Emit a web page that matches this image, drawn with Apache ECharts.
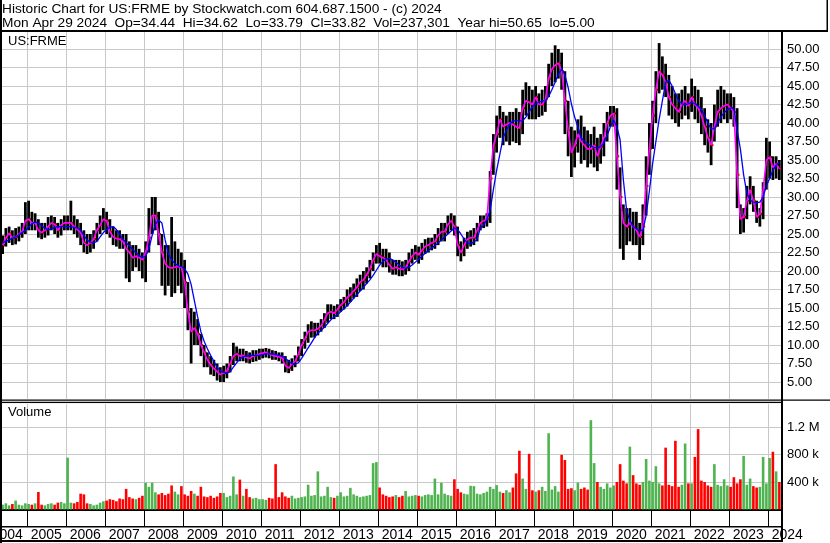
<!DOCTYPE html>
<html><head><meta charset="utf-8">
<script src="https://cdn.jsdelivr.net/npm/echarts@6/dist/echarts.min.js"></script>
<style>html,body{margin:0;padding:0;background:#fff}#c{width:830px;height:543px}</style>
</head><body><div id="c"></div>
<script>
// ---------- DATA (monthly, May 2004 .. Apr 2024) ----------
const years = ['2004','2005','2006','2007','2008','2009','2010','2011','2012','2013','2014',
               '2015','2016','2017','2018','2019','2020','2021','2022','2023','2024'];
const firstMonth = '2004-05';
const lastMonth = '2024-04';

const highs = [
  24.8,25.8,26.0,25.5,25.8,26.0,26.5,29.3,
  29.5,28.0,27.8,27.0,26.5,26.5,27.3,27.5,27.3,26.5,27.0,27.5,
  27.5,29.5,27.5,27.0,26.5,25.5,25.0,25.0,25.5,26.5,27.5,28.5,
  28.0,27.0,26.0,25.5,25.5,25.0,25.0,24.0,23.5,23.5,23.0,22.5,
  24.0,28.5,30.0,30.0,28.0,25.0,23.5,23.5,27.3,24.0,23.0,22.5,
  21.5,18.5,15.0,14.5,13.5,11.5,10.0,9.0,8.5,8.0,7.5,7.0,
  7.2,7.5,8.5,10.3,9.8,9.5,9.5,9.2,9.0,9.3,9.3,9.5,
  9.5,9.6,9.5,9.3,9.2,9.0,9.0,8.5,8.0,8.2,8.6,9.8,
  10.8,11.8,12.8,13.2,13.0,13.0,13.5,14.3,15.5,15.5,15.3,15.5,
  16.2,16.5,17.5,17.8,18.3,19.0,19.5,20.0,20.5,21.5,22.5,23.5,
  23.8,23.0,23.0,22.5,21.5,21.5,21.5,21.3,21.5,22.5,23.0,23.5,
  23.3,23.8,24.3,24.5,24.5,25.0,25.8,26.5,26.5,27.5,27.8,27.5,
  26.0,24.0,24.5,25.3,25.5,25.8,26.5,27.5,27.5,27.8,33.5,38.5,
  41.0,42.3,41.5,41.0,41.5,41.5,42.0,41.5,44.5,45.5,45.0,44.5,
  45.0,44.0,44.5,45.0,48.0,49.5,50.5,50.0,49.5,47.0,43.0,39.5,
  39.0,40.5,41.0,39.5,39.0,38.5,39.5,38.0,38.5,40.0,41.5,42.3,
  42.3,42.0,34.0,29.0,28.5,28.5,28.0,28.0,26.5,29.0,35.5,40.0,
  43.0,47.0,50.8,49.0,48.0,46.5,45.0,44.0,44.0,44.5,45.0,44.0,
  46.0,45.0,44.5,43.5,42.0,40.5,40.0,42.5,44.5,45.0,44.5,44.0,
  44.0,43.5,42.0,29.0,28.5,31.5,32.8,31.5,29.5,28.5,32.0,38.0,
  37.5,35.5,35.5,35.0
];
const lows = [
  22.3,23.3,23.8,23.5,23.6,24.0,24.5,25.0,
  25.5,25.5,25.5,24.5,24.3,24.5,24.8,25.5,25.0,24.5,24.8,25.5,
  25.5,25.5,25.0,24.5,23.5,22.5,22.3,22.5,23.0,24.0,25.0,25.5,
  25.0,24.5,23.5,23.3,23.0,23.0,19.0,18.5,20.0,20.5,20.0,19.0,
  18.5,22.5,25.0,25.5,23.5,18.0,16.7,18.0,16.5,17.0,18.0,17.0,
  15.0,12.0,7.5,10.0,10.0,8.5,7.0,7.0,6.0,5.8,5.2,5.0,
  5.0,5.5,6.3,7.3,7.8,7.8,7.8,7.6,7.5,7.7,7.8,8.0,
  8.2,8.3,8.2,8.0,8.0,7.8,7.5,6.3,6.2,6.5,7.0,7.8,
  8.5,9.5,10.3,11.0,11.0,11.3,11.8,12.3,13.0,13.5,13.5,13.8,
  14.5,14.8,15.2,15.8,16.3,16.5,17.3,17.5,18.3,19.0,20.0,21.0,
  21.0,20.5,20.5,19.8,19.5,19.5,19.3,19.3,19.5,20.0,21.0,21.5,
  21.0,21.5,22.3,22.5,22.8,23.0,23.5,24.0,24.0,25.0,25.5,24.8,
  22.0,21.3,22.0,23.0,23.3,23.5,24.0,25.5,25.8,26.0,26.5,33.0,
  36.0,38.0,37.0,37.5,37.0,37.5,37.3,37.0,38.5,41.0,40.5,40.5,
  40.5,40.8,41.0,41.5,43.5,45.0,45.5,46.0,44.5,38.5,35.5,32.7,
  34.0,36.0,34.5,35.0,34.0,34.5,34.0,33.5,34.5,35.5,37.5,39.5,
  39.5,31.0,23.0,21.5,23.5,24.0,23.5,23.5,21.5,23.5,27.5,33.0,
  36.5,40.0,44.0,44.5,43.5,41.0,40.5,40.0,39.5,40.5,41.0,40.5,
  41.5,40.5,40.0,38.5,37.0,36.0,34.3,37.5,39.5,40.0,40.5,40.0,
  40.5,39.5,28.5,25.0,25.2,27.0,29.0,28.0,26.5,26.0,27.0,31.0,
  32.5,32.3,32.5,32.3
];
const closes = [
  23.5,24.5,25.1,24.5,24.6,25.0,25.3,26.8,
  27.0,26.5,26.5,25.5,25.2,25.5,26.0,26.5,26.3,25.5,26.2,26.5,
  26.5,26.5,26.0,25.6,25.2,23.8,23.5,23.8,24.3,25.5,26.2,27.0,
  26.8,25.3,24.6,24.4,24.3,24.0,23.0,22.5,21.8,22.0,21.8,21.5,
  22.5,24.5,27.5,27.5,25.0,22.5,21.0,20.5,20.4,20.5,20.6,20.5,
  18.5,14.5,11.8,12.3,11.5,10.0,9.0,8.0,7.3,6.8,6.4,6.0,
  6.2,6.5,7.5,8.5,8.8,8.5,8.6,8.3,8.2,8.5,8.6,8.8,
  8.9,9.0,8.8,8.6,8.5,8.4,8.2,7.2,6.9,7.4,7.8,8.8,
  10.0,10.8,11.8,12.0,12.0,12.2,12.6,13.4,14.3,14.5,14.3,14.8,
  15.4,15.8,16.4,16.8,17.3,17.8,18.5,18.8,19.5,20.3,21.5,22.3,
  22.0,21.8,21.5,20.8,20.3,20.5,20.3,20.2,20.5,21.3,22.0,22.5,
  22.2,22.8,23.3,23.5,23.8,24.0,24.8,25.3,25.3,26.3,26.8,26.0,
  23.5,22.5,23.5,24.3,24.5,24.5,25.5,26.5,26.8,27.0,32.5,37.0,
  38.5,40.5,39.5,39.8,40.0,39.8,39.5,39.3,42.0,43.0,42.8,42.5,
  43.5,42.5,42.5,43.2,46.0,47.3,47.8,48.1,47.0,43.0,39.0,36.0,
  37.0,38.5,37.5,37.0,36.5,36.5,37.0,35.5,36.8,38.0,40.0,41.0,
  41.3,35.5,30.0,26.5,26.0,26.5,26.0,25.5,24.6,26.0,31.5,36.5,
  41.0,44.5,47.0,46.5,45.5,43.5,42.5,42.0,41.5,42.5,43.0,42.3,
  43.5,42.5,42.0,41.0,39.5,38.0,37.0,39.5,41.5,42.0,42.3,42.5,
  42.0,41.5,33.0,27.0,27.3,29.5,31.0,29.5,27.3,27.7,31.0,35.0,
  35.4,34.0,34.5,33.8
];
const maLong = [
  23.8,24.0,24.2,24.4,24.6,24.9,25.2,25.5,
  25.9,26.4,26.6,26.5,26.1,25.8,25.6,25.7,25.9,26.0,26.0,26.0,
  26.0,26.0,25.9,25.8,25.5,24.8,24.2,23.9,23.8,24.0,24.6,25.2,
  25.6,25.9,26.0,25.6,25.0,24.3,23.8,23.4,22.9,22.5,22.1,21.8,
  22.0,23.0,24.8,26.3,26.9,26.5,24.2,22.3,21.5,21.0,20.7,20.6,
  20.3,19.6,18.2,16.0,13.8,11.8,10.5,9.5,8.6,7.8,7.0,6.5,
  6.3,6.2,6.4,7.0,7.6,8.1,8.4,8.5,8.6,8.6,8.6,8.6,
  8.7,8.8,8.8,8.8,8.7,8.6,8.5,8.2,7.8,7.5,7.4,7.6,
  8.2,8.9,9.6,10.3,11.0,11.6,12.0,12.4,12.9,13.4,13.8,14.1,
  14.5,14.9,15.3,15.8,16.3,16.8,17.3,17.8,18.3,18.8,19.4,20.1,
  20.8,21.3,21.6,21.7,21.5,21.2,20.8,20.5,20.4,20.5,20.8,21.2,
  21.6,22.0,22.4,22.8,23.1,23.4,23.8,24.2,24.6,25.0,25.4,25.8,
  25.6,25.0,24.3,23.8,23.7,23.9,24.3,25.8,26.2,26.9,28.2,31.0,
  33.6,35.8,38.0,39.0,39.8,40.3,40.3,40.3,40.3,40.8,41.5,42.2,
  42.6,42.8,43.0,43.0,43.6,44.5,45.5,46.6,47.3,46.5,44.8,42.6,
  40.8,39.5,38.0,37.5,37.2,36.9,36.7,36.6,36.8,37.3,38.3,39.5,
  40.4,39.5,37.7,32.3,28.2,26.8,26.0,25.7,25.5,25.5,27.5,30.8,
  34.5,37.5,40.5,43.0,45.5,45.8,45.0,44.0,43.0,42.6,42.5,42.6,
  42.8,42.6,42.3,41.8,41.0,40.0,39.2,39.2,40.0,40.8,41.4,41.8,
  42.0,42.0,39.0,36.5,33.0,30.5,29.6,29.3,29.2,29.3,30.0,31.5,
  32.5,33.6,34.3,34.7
];
// volume in thousands of shares
const volumesK = [
  70,90,60,80,130,70,60,90,
  80,70,90,255,70,60,80,90,70,100,110,90,
  755,100,90,110,230,220,90,80,60,70,100,120,
  130,150,140,120,160,150,300,180,160,150,170,200,
  390,330,390,250,220,240,210,230,350,260,220,340,
  220,200,270,230,200,330,190,180,200,170,190,240,
  240,180,200,480,220,435,200,300,180,160,170,150,
  150,140,170,160,660,180,250,190,170,200,160,170,
  180,190,360,200,210,555,190,200,330,180,170,200,
  250,190,200,315,220,200,180,190,200,210,675,690,
  320,220,200,180,190,210,180,200,270,190,200,210,
  200,190,210,220,210,450,220,390,230,210,200,440,
  300,250,230,220,345,340,230,220,240,260,330,300,
  355,260,240,280,250,320,525,855,450,300,810,280,
  260,280,330,270,1110,290,340,260,795,720,300,310,
  280,390,300,320,290,1300,675,400,330,300,380,320,
  350,400,660,420,380,915,500,380,360,400,735,420,
  400,630,380,350,900,360,340,1000,330,360,960,380,
  380,765,1170,420,400,350,330,660,360,340,440,350,
  330,470,380,440,780,360,450,340,320,330,765,380,
  750,840,555,400
];
const priceTicks = { min: 2.5, max: 52.5, step: 2.5 };
const volumeLabels = { 400000: '400 k', 800000: '800 k', 1200000: '1.2 M' };
const headerLine1 = 'Historic Chart for US:FRME by Stockwatch.com 604.687.1500 - (c) 2024';
const headerLine2 = 'Mon Apr 29 2024  Op=34.44  Hi=34.62  Lo=33.79  Cl=33.82  Vol=237,301  Year hi=50.65  lo=5.00';

// ---------- BUILD ----------
const months = [];
years.forEach(y => { for (let m = 1; m <= 12; m++) { const k = y + '-' + String(m).padStart(2, '0'); if (k <= lastMonth) months.push(k); } });
const lead = months.indexOf(firstMonth);
const pad = arr => new Array(lead).fill(null).concat(arr);
const isJan = (idx, val) => String(val).slice(5) === '01';

const FONT = '"Liberation Sans", Arial, sans-serif';
const GRID = '#c8c8c8';
const RED = '#ff0000', GREEN = '#4fb34f';

const hlData = highs.map((h, i) => [i + lead, lows[i], h, closes[i]]);
const volData = pad(volumesK.map((v, i) => ({
  value: v * 1000,
  itemStyle: { color: (i === 0 || closes[i] >= closes[i - 1]) ? GREEN : RED }
})));

function renderHL(params, api) {
  const x = api.value(0);
  const top = api.coord([x, api.value(2)]);
  const bot = api.coord([x, api.value(1)]);
  const c = api.coord([x, api.value(3)]);
  const bw = api.size([1, 0])[0];
  const w = Math.max(1, bw * 0.85);
  return { type: 'group', children: [
    { type: 'rect', shape: { x: top[0] - w / 2, y: top[1], width: w, height: Math.max(1, bot[1] - top[1]) }, style: { fill: '#000' } },
    { type: 'rect', shape: { x: c[0] + w / 2 - 1, y: c[1] - 1, width: 2, height: 2 }, style: { fill: RED } }
  ]};
}

const chart = echarts.init(document.getElementById('c'), null, { renderer: 'canvas' });
const gl = -12, gw = 793;
chart.setOption({
  animation: false,
  backgroundColor: '#fff',
  textStyle: { fontFamily: FONT },
  grid: [
    { left: gl, top: 30.5, width: gw, height: 370, outerBoundsMode: 'none', containLabel: false },
    { left: gl, top: 403, width: gw, height: 106.5, outerBoundsMode: 'none', containLabel: false }
  ],
  xAxis: [
    { type: 'category', gridIndex: 0, data: months, boundaryGap: true,
      axisLine: { show: false }, axisTick: { show: false }, axisLabel: { show: false },
      splitLine: { show: true, interval: isJan, lineStyle: { color: GRID, width: 1 } } },
    { type: 'category', gridIndex: 1, data: months, boundaryGap: true,
      axisLine: { show: true, lineStyle: { color: '#000', width: 2 } },
      axisTick: { show: true, interval: isJan, length: 17, lineStyle: { color: '#000', width: 1 } },
      axisLabel: { show: true, interval: isJan, formatter: v => v.slice(0, 4), align: 'left',
        margin: 18.5, fontSize: 14, color: '#000', fontFamily: FONT, padding: [0, 0, 0, 2] },
      splitLine: { show: true, interval: isJan, lineStyle: { color: GRID, width: 1 } } }
  ],
  yAxis: [
    { type: 'value', gridIndex: 0, position: 'right', min: priceTicks.min, max: priceTicks.max, interval: priceTicks.step,
      axisLine: { show: false }, axisTick: { show: false },
      axisLabel: { margin: 6, fontSize: 13, color: '#000', fontFamily: FONT,
        formatter: v => (v < 4 || v > 51) ? '' : v.toFixed(2) },
      splitLine: { show: true, lineStyle: { color: GRID, width: 1 } } },
    { type: 'value', gridIndex: 1, position: 'right', min: 0, max: 1550000, interval: 400000,
      axisLine: { show: false }, axisTick: { show: false },
      axisLabel: { margin: 6, fontSize: 13, color: '#000', fontFamily: FONT,
        formatter: v => volumeLabels[v] || '' },
      splitLine: { show: true, lineStyle: { color: GRID, width: 1 } } }
  ],
  series: [
    { type: 'custom', name: 'range', xAxisIndex: 0, yAxisIndex: 0, data: hlData,
      encode: { x: 0, y: [1, 2] }, renderItem: renderHL, silent: true, z: 2 },
    { type: 'line', name: 'short', xAxisIndex: 0, yAxisIndex: 0, data: pad(closes), symbol: 'none',
      lineStyle: { color: '#ff00ff', width: 1.6 }, silent: true, z: 3 },
    { type: 'line', name: 'long', xAxisIndex: 0, yAxisIndex: 0, data: pad(maLong), symbol: 'none',
      lineStyle: { color: '#0000ff', width: 1.3 }, silent: true, z: 4 },
    { type: 'bar', name: 'Volume', xAxisIndex: 1, yAxisIndex: 1, data: volData,
      barWidth: '80%', silent: true, z: 2 }
  ],
  graphic: { elements: [
    { type: 'rect', z: 100, shape: { x: 0, y: 0, width: 827, height: 30 }, style: { fill: '#fff' } },
    { type: 'rect', z: 101, shape: { x: 0, y: 30, width: 828, height: 2 }, style: { fill: '#000' } },
    { type: 'rect', z: 101, shape: { x: 826.5, y: 0, width: 1.5, height: 32 }, style: { fill: '#000' } },
    { type: 'text', z: 102, x: 2, y: 2, style: { text: headerLine1, font: '13.7px ' + FONT, fill: '#000', verticalAlign: 'top' } },
    { type: 'text', z: 102, x: 2, y: 16, style: { text: headerLine2, font: '13.7px ' + FONT, fill: '#000', verticalAlign: 'top' } },
    { type: 'text', z: 102, x: 8, y: 34.5, style: { text: 'US:FRME', font: '13px ' + FONT, fill: '#000', verticalAlign: 'top' } },
    { type: 'text', z: 102, x: 8, y: 406, style: { text: 'Volume', font: '13px ' + FONT, fill: '#000', verticalAlign: 'top' } },
    { type: 'rect', z: 100, shape: { x: 0, y: 398.8, width: 781, height: 5 }, style: { fill: '#fff' } },
    { type: 'rect', z: 101, shape: { x: 0, y: 399.5, width: 830, height: 1.2 }, style: { fill: '#000' } },
    { type: 'rect', z: 101, shape: { x: 0, y: 401.8, width: 782, height: 1.2 }, style: { fill: '#000' } },
    { type: 'rect', z: 101, shape: { x: 781, y: 31, width: 2, height: 511 }, style: { fill: '#000' } },
    { type: 'rect', z: 101, shape: { x: 0, y: 526, width: 782, height: 1.5 }, style: { fill: '#000' } },
    { type: 'rect', z: 101, shape: { x: 0, y: 540, width: 782, height: 2 }, style: { fill: '#000' } },
    { type: 'rect', z: 101, shape: { x: 0, y: 0, width: 2, height: 543 }, style: { fill: '#000' } }
  ]}
});
</script></body></html>
